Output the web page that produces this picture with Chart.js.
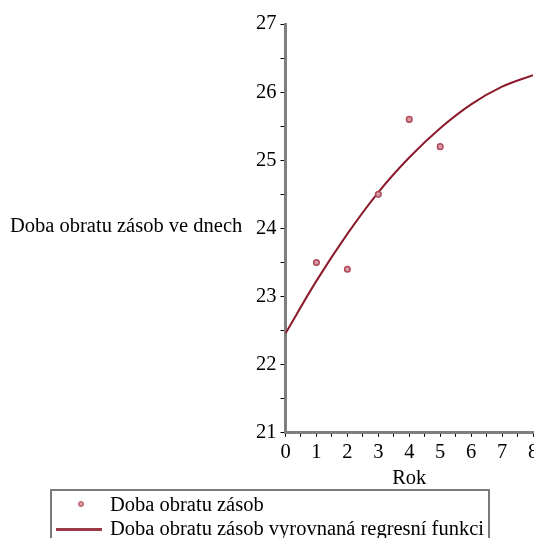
<!DOCTYPE html>
<html>
<head>
<meta charset="utf-8">
<script src="https://cdn.jsdelivr.net/npm/chart.js@4"></script>
<style>
  html, body { margin: 0; padding: 0; background: #fff; width: 534px; height: 538px; overflow: hidden; }
  #wrap { position: relative; width: 534px; height: 538px; overflow: hidden; }
  #chart { position: absolute; left: 0; top: 0; }
  .serif { font-family: "Liberation Serif", "Times New Roman", serif; font-size: 20.5px; color: #000; }
  #ytitle { position: absolute; left: 10px; top: 214px; white-space: nowrap; }
  #legend { position: absolute; left: 50px; top: 489px; width: 436px; height: 60px; border: 2px solid #7a7a7a; }
  .row { position: absolute; left: 0; white-space: nowrap; line-height: 22px; }
  .dot { position: absolute; left: 26px; top: 8px; width: 4px; height: 4px; border: 1.5px solid #b04a5a; border-radius: 50%; background: #d89aa4; }
  .ln { position: absolute; left: 4px; top: 11px; width: 46px; border-top: 3px solid #9c3a48; }
  .txt { position: absolute; left: 58px; top: 0; }
</style>
</head>
<body>
<div id="wrap">
  <canvas id="chart" width="545" height="491"></canvas>
  <div id="ytitle" class="serif">Doba obratu zásob ve dnech</div>
  <div id="legend" class="serif">
    <div class="row" style="top:2px"><span class="dot"></span><span class="txt">Doba obratu zásob</span></div>
    <div class="row" style="top:26px"><span class="ln"></span><span class="txt">Doba obratu zásob vyrovnaná regresní funkci</span></div>
  </div>
</div>
<script>
// measured points
const years = [1, 2, 3, 4, 5];
const days = [23.5, 23.4, 24.5, 25.6, 25.2];

// regression curve
const fitYears = [0, 1, 2, 3, 4, 5, 6, 7, 8];
const fitDays = [22.46, 23.23, 23.92, 24.53, 25.04, 25.47, 25.82, 26.08, 26.25];

const yMin = 21, yMax = 27;
const xMin = 0, xMax = 8;

const serif = '"Liberation Serif", "Times New Roman", serif';

const ctx = document.getElementById('chart');
const chart = new Chart(ctx, {
  type: 'scatter',
  data: {
    datasets: [{
      label: 'Doba obratu zásob vyrovnaná regresní funkci',
      data: fitYears.map((x, i) => ({ x: x, y: fitDays[i] })),
      showLine: true,
      borderColor: '#8b1a2c',
      borderWidth: 2,
      pointRadius: 0,
      cubicInterpolationMode: 'monotone',
      order: 2
    }, {
      label: 'Doba obratu zásob',
      data: years.map((x, i) => ({ x: x, y: days[i] })),
      showLine: false,
      pointRadius: 2.8,
      pointBorderWidth: 1.5,
      pointBorderColor: '#b04a5a',
      pointBackgroundColor: '#d89aa4',
      order: 1
    }]
  },
  options: {
    responsive: false,
    animation: false,
    devicePixelRatio: 1,
    layout: { padding: { left: 252, top: 24, right: 12, bottom: 0 } },
    plugins: { legend: { display: false }, tooltip: { enabled: false } },
    scales: {
      x: {
        type: 'linear',
        min: xMin,
        max: xMax,
        border: { color: '#7f7f7f', width: 3 },
        grid: { drawOnChartArea: false, tickLength: 4, color: '#000', tickWidth: 1 },
        ticks: {
          stepSize: 0.5,
          autoSkip: false,
          maxRotation: 0,
          padding: 4,
          color: '#000',
          font: { family: serif, size: 20.5 },
          callback: v => Number.isInteger(v) ? v : ''
        },
        title: { display: true, text: 'Rok', color: '#000', font: { family: serif, size: 20.5 }, padding: { top: -3, bottom: 0 } }
      },
      y: {
        min: yMin,
        max: yMax,
        border: { color: '#7f7f7f', width: 3 },
        grid: { drawOnChartArea: false, tickLength: 5, color: '#000', tickWidth: 1 },
        ticks: {
          stepSize: 0.5,
          autoSkip: false,
          padding: 4,
          color: '#000',
          font: { family: serif, size: 20.5 },
          callback: v => Number.isInteger(v) ? v : ''
        }
      }
    }
  }
});
</script>
</body>
</html>
